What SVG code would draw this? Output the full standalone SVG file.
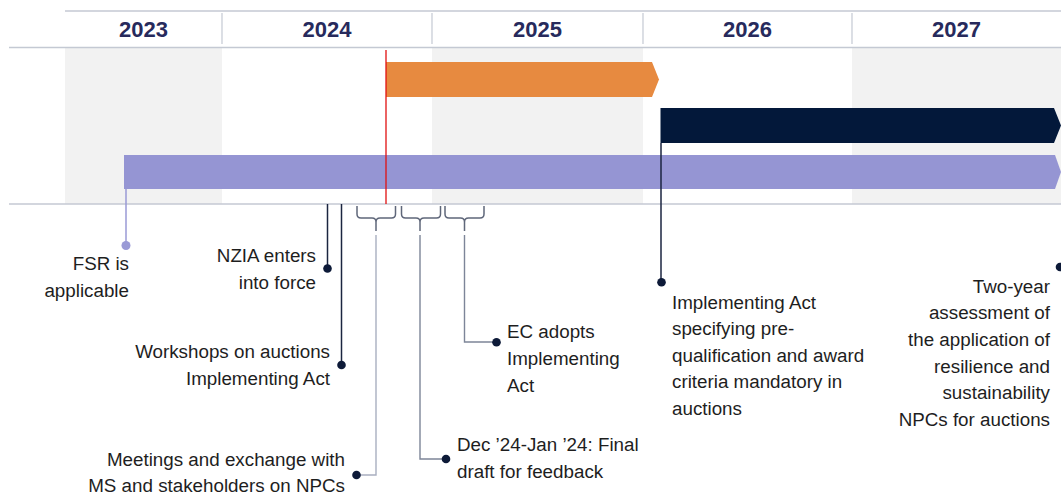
<svg xmlns="http://www.w3.org/2000/svg" width="1061" height="495" viewBox="0 0 1061 495">
<style>
.yr{font-family:"Liberation Sans",Arial,sans-serif;font-weight:bold;font-size:22px;fill:#272a5c;text-anchor:middle}
.t{font-family:"Liberation Sans",Arial,sans-serif;font-size:18.8px;fill:#1e1e1e}
.r{text-anchor:end}
.col{fill:#f2f2f2}
.hl{stroke:#c4c9d3;stroke-width:1.5;fill:none}
.dv{stroke:#c4c9d3;stroke-width:1.2}
.cn{stroke:#1b2540;stroke-width:1.5;fill:none}
.br{stroke:#5f677a;stroke-width:1.5;fill:none}
.ln{stroke:#7d8598;stroke-width:1.4;fill:none}
.dot{fill:#0d1a38}
</style>
<rect width="1061" height="495" fill="#ffffff"/>
<g id="grid">
<rect class="col" x="65" y="48" width="157" height="156"/>
<rect class="col" x="432" y="48" width="211" height="156"/>
<rect class="col" x="852" y="48" width="209" height="156"/>
<line class="hl" x1="65" y1="11" x2="1061" y2="11"/>
<line class="hl" x1="9" y1="47.5" x2="1061" y2="47.5"/>
<line class="hl" x1="9" y1="204" x2="1061" y2="204"/>
<line class="dv" x1="222" y1="13" x2="222" y2="44"/>
<line class="dv" x1="432" y1="13" x2="432" y2="44"/>
<line class="dv" x1="643" y1="13" x2="643" y2="44"/>
<line class="dv" x1="852" y1="13" x2="852" y2="44"/>
<text class="yr" x="143.5" y="37">2023</text>
<text class="yr" x="327" y="37">2024</text>
<text class="yr" x="537.5" y="37">2025</text>
<text class="yr" x="747.5" y="37">2026</text>
<text class="yr" x="956.5" y="37">2027</text>
</g>
<g id="bars">
<polygon id="bar-orange" points="386,62 652,62 659,79.5 652,97 386,97" fill="#e78a40"/>
<polygon id="bar-navy" points="660.5,108 1054,108 1061,125.5 1054,143 660.5,143" fill="#03183a"/>
<polygon id="bar-purple" points="124,155 1055,155 1061,172 1055,189 124,189" fill="#9595d3"/>
<line id="today" x1="386" y1="50" x2="386" y2="204" stroke="#e01010" stroke-width="1.3"/>
</g>
<g id="connectors">
<line x1="126" y1="189" x2="126" y2="245" stroke="#9a9ad6" stroke-width="1.5"/>
<line class="cn" x1="661" y1="143" x2="661" y2="282"/>
<line class="cn" x1="327.5" y1="204" x2="327.5" y2="268"/>
<line class="cn" x1="341.5" y1="204" x2="341.5" y2="365"/>
<path class="br" d="M357,206 V214 Q357,218 361,218 H372 Q376,218 376,222 V231 M376,222 Q376,218 380,218 H391.5 Q395.5,218 395.5,214 V206"/>
<path class="br" d="M401.5,206 V214 Q401.5,218 405.5,218 H416 Q420,218 420,222 V231 M420,222 Q420,218 424,218 H436.5 Q440.5,218 440.5,214 V206"/>
<path class="br" d="M445,206 V214 Q445,218 449,218 H460.5 Q464.5,218 464.5,222 V231 M464.5,222 Q464.5,218 468.5,218 H480 Q484,218 484,214 V206"/>
<path d="M376,235 V475 H357" stroke="#a9afc0" stroke-width="1.4" fill="none"/>
<path class="ln" d="M420,235 V459 H446"/>
<path class="ln" d="M464.5,235 V342 H496"/>
</g>
<g id="fsr">
<circle cx="126" cy="245.5" r="4.5" fill="#9a9ad6"/>
<text class="t r" x="129" y="270">FSR is</text>
<text class="t r" x="129" y="296.5">applicable</text>
</g>
<g id="nzia">
<circle class="dot" cx="327.5" cy="268.5" r="4.3"/>
<text class="t r" x="316" y="262">NZIA enters</text>
<text class="t r" x="316" y="288.5">into force</text>
</g>
<g id="workshops">
<circle class="dot" cx="341.5" cy="365" r="4.3"/>
<text class="t r" x="330" y="358">Workshops on auctions</text>
<text class="t r" x="330" y="384.5">Implementing Act</text>
</g>
<g id="meetings">
<circle class="dot" cx="356.5" cy="475" r="4.3"/>
<text class="t r" x="345" y="465.5">Meetings and exchange with</text>
<text class="t r" x="345" y="492">MS and stakeholders on NPCs</text>
</g>
<g id="final-draft">
<circle class="dot" cx="446" cy="459" r="4.3"/>
<text class="t" x="457" y="451">Dec ’24-Jan ’24: Final</text>
<text class="t" x="457" y="477.5">draft for feedback</text>
</g>
<g id="ec-adopts">
<circle class="dot" cx="496.5" cy="342.3" r="4.3"/>
<text class="t" x="507" y="338">EC adopts</text>
<text class="t" x="507" y="365">Implementing</text>
<text class="t" x="507" y="391.5">Act</text>
</g>
<g id="implementing-act">
<circle class="dot" cx="661.5" cy="282.3" r="4.3"/>
<text class="t" x="672" y="308.5">Implementing Act</text>
<text class="t" x="672" y="335">specifying pre-</text>
<text class="t" x="672" y="361.5">qualification and award</text>
<text class="t" x="672" y="388.3">criteria mandatory in</text>
<text class="t" x="672" y="415">auctions</text>
</g>
<g id="assessment">
<circle class="dot" cx="1060" cy="267" r="4.3"/>
<text class="t r" x="1050" y="292.5">Two-year</text>
<text class="t r" x="1050" y="319.3">assessment of</text>
<text class="t r" x="1050" y="346">the application of</text>
<text class="t r" x="1050" y="372.7">resilience and</text>
<text class="t r" x="1050" y="399.3">sustainability</text>
<text class="t r" x="1050" y="426">NPCs for auctions</text>
</g>
</svg>
